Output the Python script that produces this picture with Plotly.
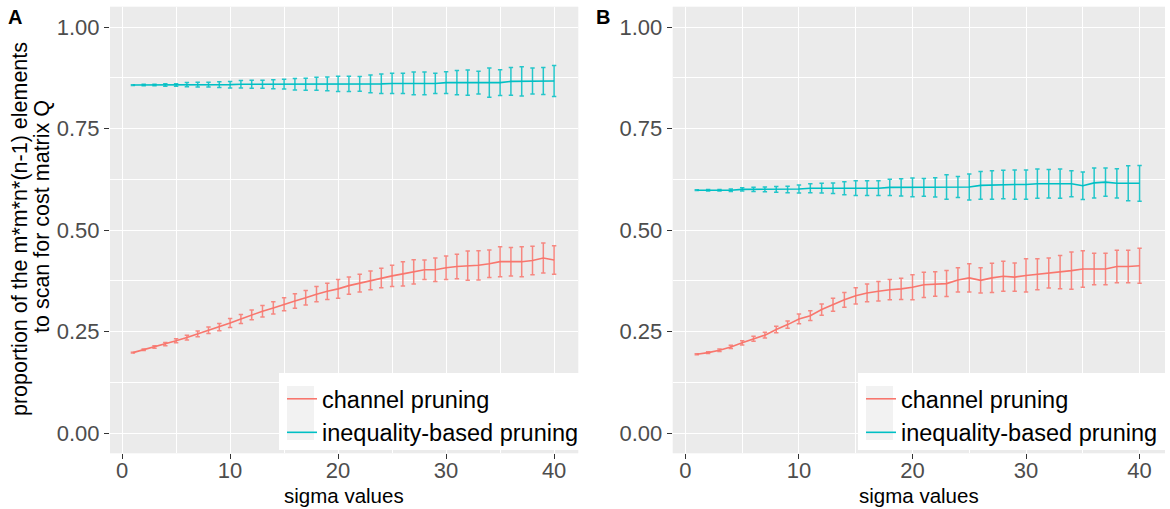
import plotly.graph_objects as go

W, H = 1170, 509

sigma = list(range(1, 41))

a_channel_mean = [0.198, 0.205, 0.212, 0.219, 0.227, 0.235, 0.244, 0.253, 0.261, 0.271,
                  0.281, 0.291, 0.300, 0.308, 0.317, 0.325, 0.333, 0.342, 0.349, 0.355,
                  0.363, 0.369, 0.376, 0.382, 0.387, 0.392, 0.397, 0.402, 0.402, 0.407,
                  0.410, 0.412, 0.413, 0.417, 0.422, 0.422, 0.422, 0.425, 0.431, 0.426]
a_channel_err = [0.001, 0.002, 0.003, 0.004, 0.005, 0.006, 0.007, 0.008, 0.009, 0.011,
                 0.011, 0.012, 0.014, 0.015, 0.016, 0.018, 0.018, 0.019, 0.020, 0.023,
                 0.021, 0.022, 0.023, 0.024, 0.026, 0.030, 0.030, 0.024, 0.029, 0.029,
                 0.030, 0.036, 0.036, 0.034, 0.037, 0.035, 0.037, 0.035, 0.037, 0.035]
a_ineq_mean = [0.857, 0.857, 0.857, 0.857, 0.857, 0.858, 0.858, 0.858, 0.858, 0.858,
               0.859, 0.859, 0.859, 0.859, 0.859, 0.859, 0.859, 0.860, 0.860, 0.860,
               0.860, 0.860, 0.860, 0.860, 0.861, 0.861, 0.861, 0.861, 0.861, 0.863,
               0.863, 0.863, 0.863, 0.863, 0.863, 0.866, 0.866, 0.867, 0.867, 0.867]
a_ineq_err = [0.001, 0.002, 0.002, 0.003, 0.003, 0.005, 0.006, 0.006, 0.007, 0.008,
              0.009, 0.010, 0.010, 0.011, 0.012, 0.014, 0.015, 0.016, 0.017, 0.019,
              0.019, 0.018, 0.022, 0.024, 0.025, 0.025, 0.028, 0.028, 0.025, 0.027,
              0.030, 0.031, 0.028, 0.036, 0.032, 0.034, 0.036, 0.032, 0.033, 0.038]

b_channel_mean = [0.194, 0.198, 0.204, 0.212, 0.222, 0.232, 0.241, 0.255, 0.267, 0.281,
                  0.289, 0.304, 0.316, 0.328, 0.338, 0.345, 0.349, 0.353, 0.355, 0.359,
                  0.365, 0.367, 0.368, 0.377, 0.382, 0.376, 0.382, 0.386, 0.384, 0.388,
                  0.391, 0.394, 0.396, 0.400, 0.404, 0.404, 0.404, 0.410, 0.410, 0.412]
b_channel_err = [0.001, 0.002, 0.003, 0.004, 0.005, 0.006, 0.007, 0.008, 0.009, 0.012,
                 0.012, 0.014, 0.016, 0.018, 0.020, 0.022, 0.024, 0.025, 0.026, 0.031,
                 0.031, 0.030, 0.032, 0.030, 0.035, 0.031, 0.036, 0.037, 0.035, 0.041,
                 0.038, 0.037, 0.041, 0.046, 0.045, 0.039, 0.039, 0.040, 0.040, 0.043]
b_ineq_mean = [0.598, 0.598, 0.598, 0.598, 0.600, 0.600, 0.600, 0.600, 0.600, 0.601,
               0.603, 0.603, 0.603, 0.603, 0.603, 0.603, 0.603, 0.605, 0.605, 0.605,
               0.605, 0.605, 0.606, 0.606, 0.606, 0.610, 0.611, 0.612, 0.612, 0.612,
               0.614, 0.614, 0.614, 0.614, 0.609, 0.616, 0.618, 0.615, 0.615, 0.615]
b_ineq_err = [0.001, 0.002, 0.002, 0.003, 0.004, 0.005, 0.006, 0.007, 0.008, 0.010,
              0.011, 0.012, 0.013, 0.016, 0.018, 0.018, 0.018, 0.020, 0.021, 0.023,
              0.022, 0.024, 0.030, 0.026, 0.032, 0.034, 0.035, 0.035, 0.036, 0.036,
              0.036, 0.035, 0.036, 0.032, 0.034, 0.037, 0.035, 0.036, 0.043, 0.044]

series_names = ["channel pruning", "inequality-based pruning"]
colors = ["#F8766D", "#00BFC4"]
err_colors = ["rgba(248,118,109,0.85)", "rgba(0,191,196,0.85)"]
yticks = [0.0, 0.25, 0.5, 0.75, 1.0]
yticklabels = ["0.00", "0.25", "0.50", "0.75", "1.00"]
xticks = [0, 10, 20, 30, 40]


def px(x):
    return x / W


def py(y):
    return 1 - y / H


fig = go.Figure()

panels = [
    ("x", "y", "legend", [a_channel_mean, a_ineq_mean], [a_channel_err, a_ineq_err]),
    ("x2", "y2", "legend2", [b_channel_mean, b_ineq_mean], [b_channel_err, b_ineq_err]),
]
for xa, ya, lg, means, errs in panels:
    for i in range(2):
        fig.add_trace(go.Scatter(
            x=sigma, y=means[i], mode="lines", name=series_names[i],
            line=dict(color=colors[i], width=1.6),
            error_y=dict(type="data", array=errs[i], visible=True,
                         color=err_colors[i], thickness=1.5, width=2.2),
            xaxis=xa, yaxis=ya, legend=lg, showlegend=True,
        ))

axis_common = dict(
    showgrid=True, gridcolor="white", gridwidth=1.3, zeroline=False,
    ticks="outside", ticklen=5, tickcolor="#333333", tickwidth=1.1,
    tickfont=dict(family="Liberation Sans, Arial, sans-serif", size=22, color="#4D4D4D"),
    showline=False,
)
xr = [-1.12, 42.24]
yr = [-0.05, 1.05]
xminor = dict(tickvals=[5, 15, 25, 35], showgrid=True, gridcolor="white", gridwidth=0.6, ticks="")
yminor = dict(tickvals=[0.125, 0.375, 0.625, 0.875], showgrid=True, gridcolor="white",
              gridwidth=0.6, ticks="")
fig.update_layout(
    width=W, height=H,
    margin=dict(l=0, r=0, t=0, b=0),
    paper_bgcolor="white", plot_bgcolor="#EBEBEB",
    font=dict(family="Liberation Sans, Arial, sans-serif"),
    xaxis=dict(domain=[px(110), px(578.3)], range=xr, tickvals=xticks, anchor="y",
               ticklabelstandoff=-8, minor=xminor, **axis_common),
    yaxis=dict(domain=[py(453.3), py(6.7)], range=yr, tickvals=yticks, ticktext=yticklabels,
               anchor="x", minor=yminor, **axis_common),
    xaxis2=dict(domain=[px(672.7), px(1165)], range=xr, tickvals=xticks, anchor="y2",
                ticklabelstandoff=-8, minor=xminor, **axis_common),
    yaxis2=dict(domain=[py(453.3), py(6.7)], range=yr, tickvals=yticks, ticktext=yticklabels,
                anchor="x2", minor=yminor, **axis_common),
    legend=dict(x=px(282), y=py(377), xanchor="left", yanchor="top",
                bgcolor="rgba(0,0,0,0)", font=dict(size=23.5, color="black"),
                itemwidth=30, tracegroupgap=0),
    legend2=dict(x=px(861), y=py(377), xanchor="left", yanchor="top",
                 bgcolor="rgba(0,0,0,0)", font=dict(size=23.5, color="black"),
                 itemwidth=30, tracegroupgap=0),
)

# legend boxes (white background + grey key area)
shapes = []
for x0, x1, k0 in [(279, 590, 287), (858, 1170, 866)]:
    shapes.append(dict(type="rect", xref="paper", yref="paper", layer="above",
                       x0=px(x0), x1=px(x1), y0=py(450), y1=py(373),
                       fillcolor="white", line=dict(width=0)))
    shapes.append(dict(type="rect", xref="paper", yref="paper", layer="above",
                       x0=px(k0), x1=px(k0 + 27), y0=py(440), y1=py(386),
                       fillcolor="#F2F2F2", line=dict(width=0)))
fig.update_layout(shapes=shapes)

annotations = [
    dict(text="<b>A</b>", x=px(15), y=py(17), xref="paper", yref="paper",
         showarrow=False, font=dict(size=20, color="black"), xanchor="center", yanchor="middle"),
    dict(text="<b>B</b>", x=px(603), y=py(17), xref="paper", yref="paper",
         showarrow=False, font=dict(size=20, color="black"), xanchor="center", yanchor="middle"),
    dict(text="sigma values", x=px(344), y=py(495), xref="paper", yref="paper",
         showarrow=False, font=dict(size=20.5, color="black"), xanchor="center", yanchor="middle"),
    dict(text="sigma values", x=px(919), y=py(495), xref="paper", yref="paper",
         showarrow=False, font=dict(size=20.5, color="black"), xanchor="center", yanchor="middle"),
    dict(text="proportion of the m*m*n*(n-1) elements",
         x=px(20), y=py(229), xref="paper", yref="paper", textangle=-90,
         showarrow=False, font=dict(size=21.5, color="black"), xanchor="center", yanchor="middle"),
    dict(text="to scan for cost matrix Q",
         x=px(42), y=py(217), xref="paper", yref="paper", textangle=-90,
         showarrow=False, font=dict(size=21.5, color="black"), xanchor="center", yanchor="middle"),
]
fig.update_layout(annotations=annotations)

fig.write_html("out.html", config={"displayModeBar": False},
               post_script="document.body.style.margin='0px';")
